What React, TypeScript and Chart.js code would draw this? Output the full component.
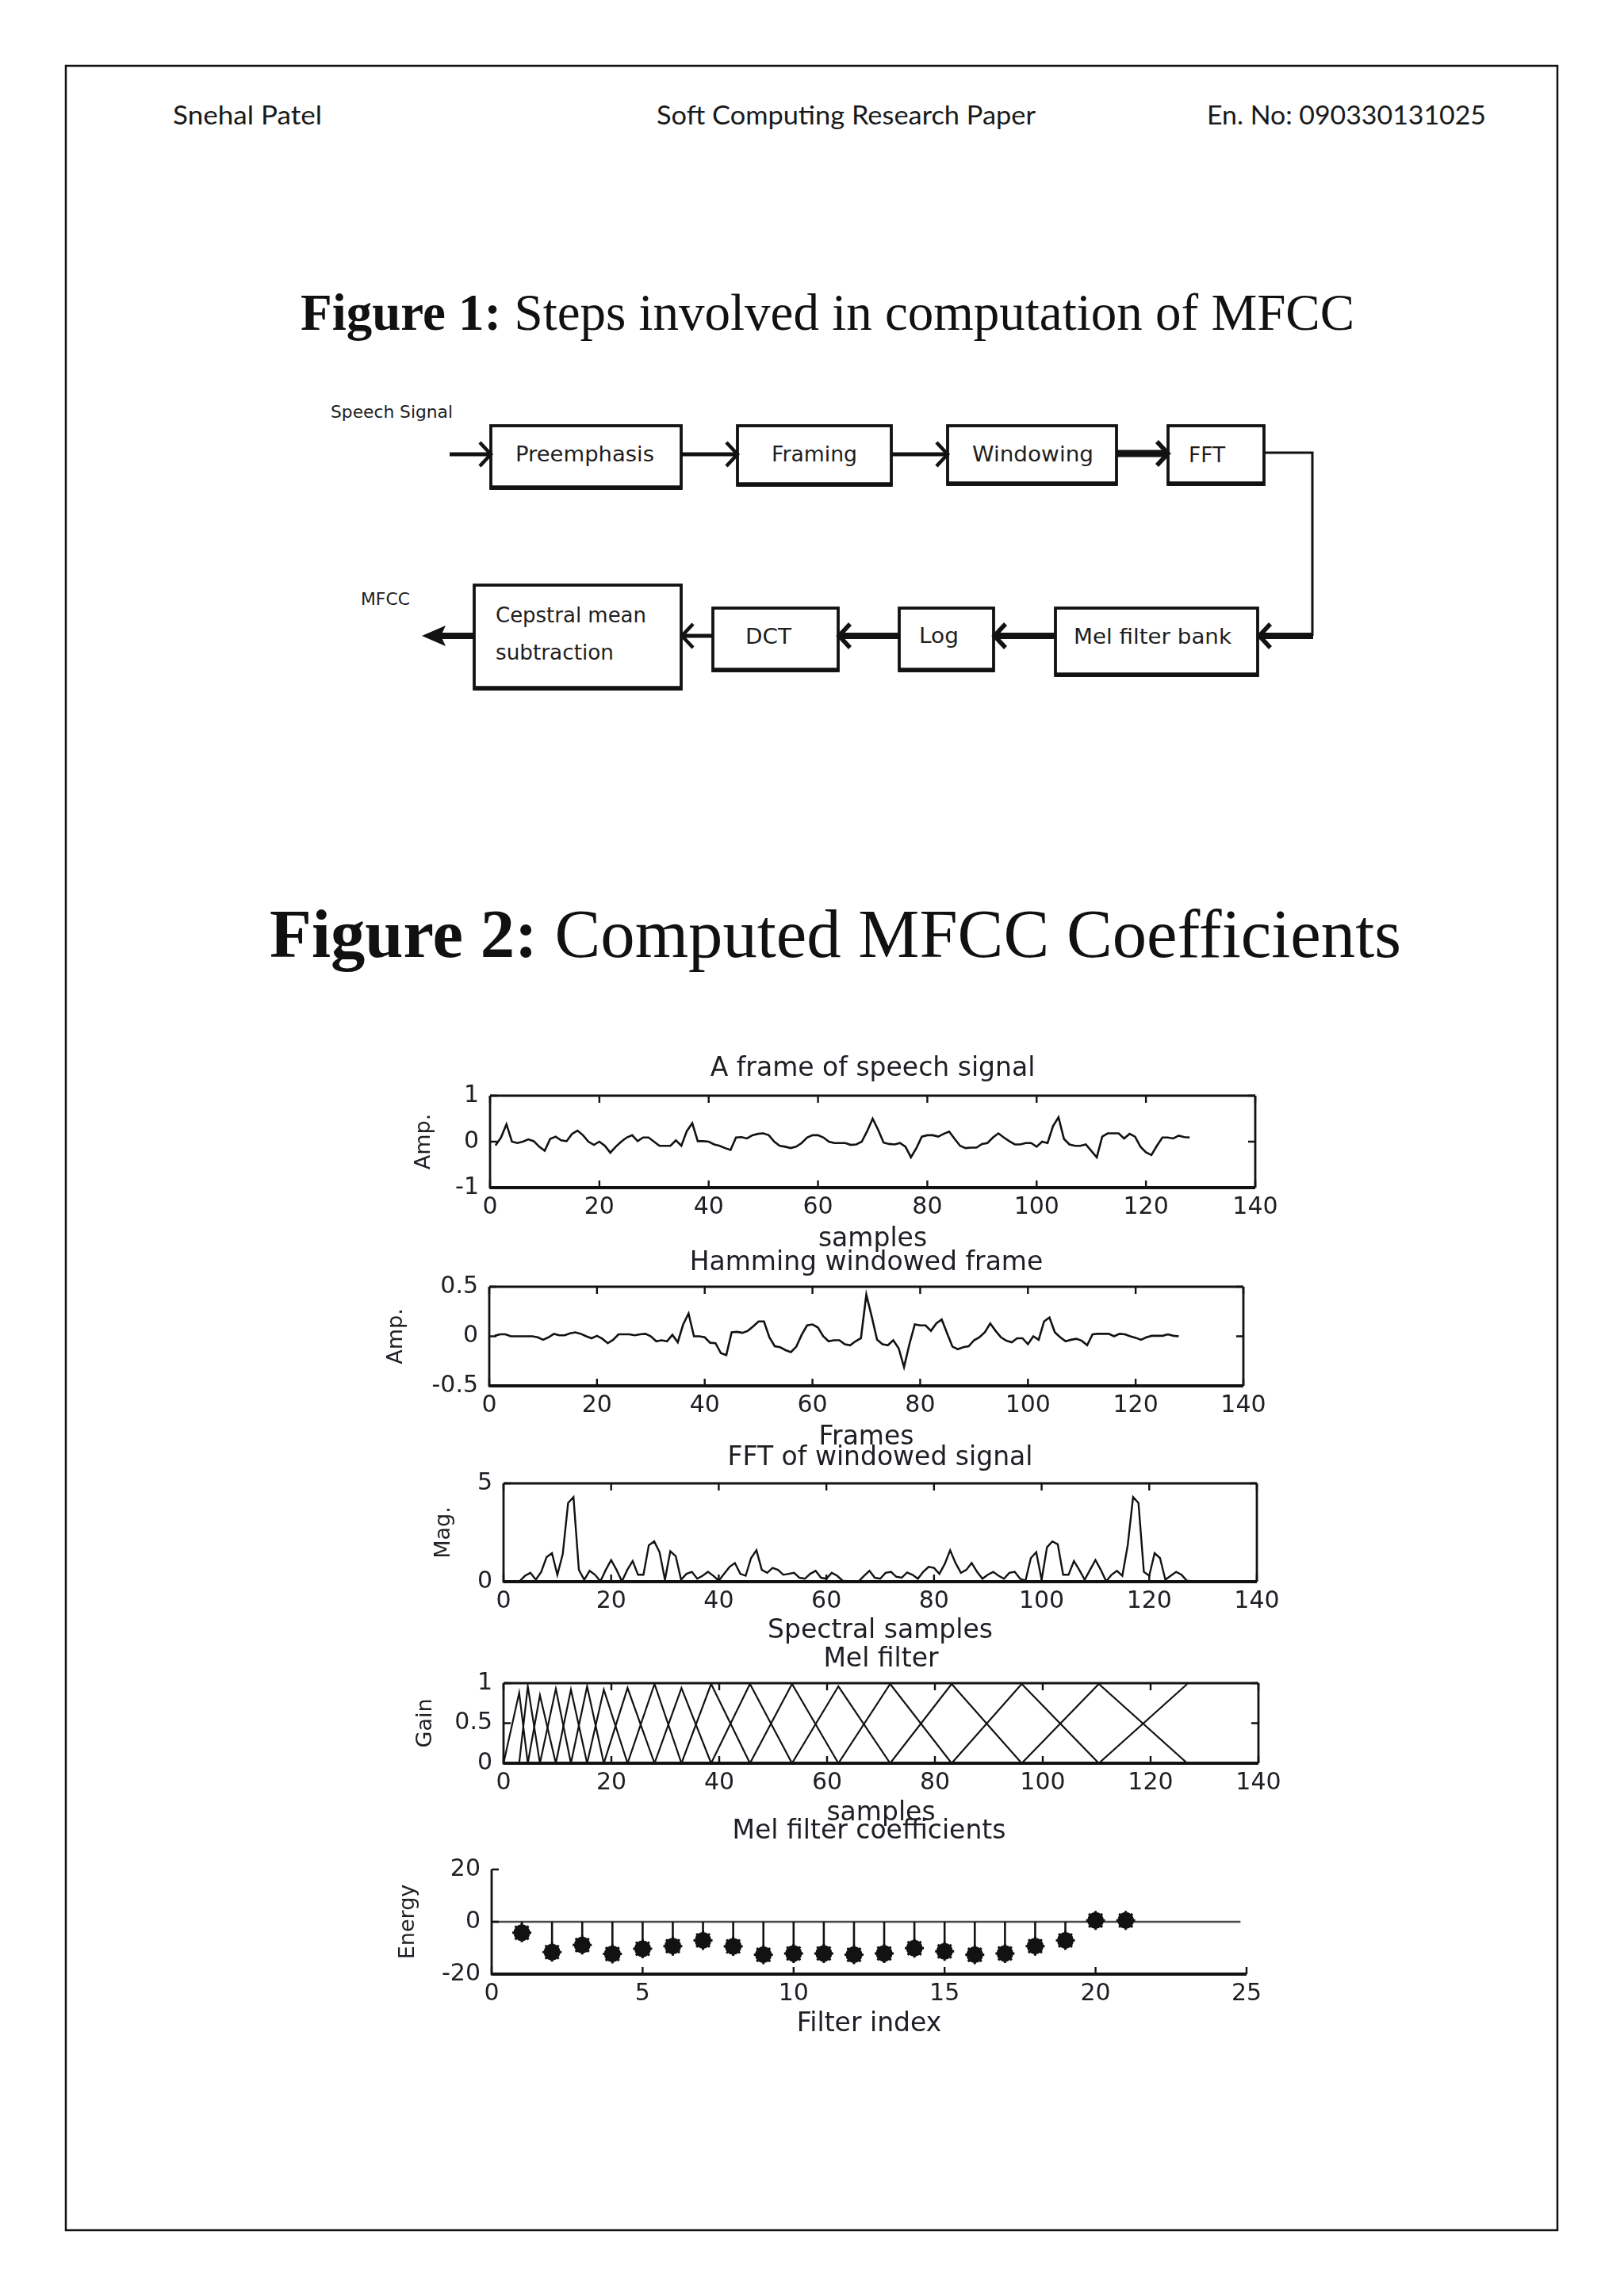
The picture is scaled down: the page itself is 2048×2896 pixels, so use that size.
import React, { useEffect, useRef } from 'react';
import { Chart, registerables } from 'chart.js';

Chart.register(...registerables);

// ---------------- data ----------------
const frameSignal = [
  -0.08, 0.09, 0.38, 0.0, -0.03, 0.0, 0.05, 0.01, -0.11, -0.2,
  0.06, 0.11, 0.03, 0.01, 0.17, 0.24, 0.14, 0.0, -0.07, 0.0,
  -0.09, -0.24, -0.11, 0.0, 0.09, 0.14, 0.01, 0.09, 0.09, 0.0,
  -0.09, -0.09, -0.09, 0.03, -0.09, 0.23, 0.4, 0.01, 0.01, 0.0,
  -0.06, -0.09, -0.14, -0.18, 0.09, 0.1, 0.07, 0.14, 0.17, 0.18,
  0.14, 0.0, -0.09, -0.11, -0.14, -0.11, -0.03, 0.09, 0.14, 0.14,
  0.09, 0.0, -0.03, -0.03, -0.03, -0.07, -0.06, 0.0, 0.23, 0.5,
  0.26, -0.02, -0.05, -0.06, -0.03, -0.11, -0.34, -0.14, 0.11, 0.14,
  0.14, 0.11, 0.17, 0.22, 0.06, -0.09, -0.14, -0.13, -0.13, -0.05,
  -0.03, 0.09, 0.18, 0.09, 0.01, -0.06, -0.06, -0.03, -0.03, -0.11,
  0.0, -0.03, 0.34, 0.53, 0.06, -0.06, -0.09, -0.09, -0.06, -0.2,
  -0.34, 0.11, 0.18, 0.18, 0.18, 0.07, 0.17, 0.11, -0.11, -0.23,
  -0.29, -0.09, 0.09, 0.09, 0.07, 0.13, 0.1, 0.09,
];

const windowedFrame = [
  0.005, 0.02, 0.02, 0, 0, 0, 0, 0, -0.01, -0.035,
  -0.01, 0.025, 0.01, 0.01, 0.03, 0.04, 0.025, 0, -0.02, 0.005,
  -0.025, -0.07, -0.035, 0.02, 0.02, 0.02, 0.01, 0.02, 0.025, 0,
  -0.05, -0.04, -0.05, 0.015, -0.06, 0.12, 0.23, 0, 0, -0.01,
  -0.065, -0.07, -0.17, -0.19, 0.04, 0.045, 0.035, 0.055, 0.1, 0.15,
  0.15, -0.01, -0.1, -0.11, -0.14, -0.16, -0.105, 0.015, 0.11, 0.12,
  0.09, 0, -0.05, -0.04, -0.04, -0.08, -0.09, -0.05, -0.02, 0.42,
  0.2, -0.035, -0.08, -0.09, -0.04, -0.12, -0.31, -0.08, 0.12, 0.11,
  0.11, 0.055, 0.13, 0.17, 0.03, -0.105, -0.13, -0.11, -0.1, -0.04,
  -0.01, 0.04, 0.13, 0.055, -0.01, -0.045, -0.06, -0.02, -0.02, -0.08,
  0, -0.035, 0.15, 0.19, 0.04, -0.01, -0.05, -0.035, -0.025, -0.045,
  -0.09, 0.02, 0.025, 0.025, 0.025, 0, 0.025, 0.02, 0, -0.015,
  -0.035, -0.01, 0.005, 0.005, 0.005, 0.02, 0.005, 0,
];

const fftMagnitude = [
  0.02, 0.02, 0.03, 0.3, 0.45, 0.1, 0.5, 1.25, 1.45, 0.35,
  1.4, 4.0, 4.3, 0.6, 0.1, 0.55, 0.35, 0.02, 0.6, 1.1,
  0.6, 0.02, 0.6, 1.05, 0.35, 0.35, 1.85, 2.05, 1.5, 0.1,
  1.55, 1.3, 0.1, 0.4, 0.5, 0.15, 0.3, 0.5, 0.3, 0.05,
  0.4, 0.75, 0.95, 0.4, 0.3, 1.2, 1.6, 0.6, 0.45, 0.7,
  0.6, 0.35, 0.4, 0.45, 0.2, 0.15, 0.4, 0.55, 0.2, 0.15,
  0.45, 0.3, 0.05, 0.02, 0.02, 0.02, 0.3, 0.55, 0.2, 0.15,
  0.45, 0.5, 0.25, 0.2, 0.47, 0.35, 0.15, 0.5, 0.75, 0.7,
  0.4, 0.9, 1.6, 0.95, 0.45, 0.6, 0.95, 0.5, 0.15, 0.35,
  0.5, 0.3, 0.15, 0.45, 0.5, 0.15, 0.05, 1.2, 1.5, 0.1,
  1.75, 2.05, 1.9, 0.35, 0.35, 1.05, 0.6, 0.1, 0.6, 1.1,
  0.6, 0.02, 0.35, 0.55, 0.3, 1.85, 4.3, 4.0, 0.5, 0.3,
  1.45, 1.2, 0.1, 0.3, 0.5, 0.35, 0.05, 0.02,
];

// centre (and edge) positions of the triangular mel filters, and their peak gains
const melCenters = [0, 2.9, 4.5, 6.75, 9.7, 12.5, 15.5, 18.6, 23.0, 28.0, 33.0, 38.5, 45.7, 53.5, 62.1, 71.7, 83.1, 96.1, 110.4, 126.8];
const melPeaks = [0.88, 0.96, 0.85, 0.93, 0.92, 0.96, 0.92, 0.94, 0.99, 0.94, 0.99, 0.99, 0.99, 0.96, 0.99, 0.99, 0.99, 0.99, 0.99];

const filterIndex = [1, 2, 3, 4, 5, 6, 7, 8, 9, 10, 11, 12, 13, 14, 15, 16, 17, 18, 19, 20, 21];
const melEnergy = [-4.2, -11.6, -8.9, -12.3, -10.3, -9.3, -7.1, -9.4, -12.6, -12.1, -12.1, -12.6, -12.1, -10.1, -11.3, -12.6, -12.1, -9.3, -7.1, 0.5, 0.5];

const sampleTicks = [0, 20, 40, 60, 80, 100, 120, 140];
const frameAmpTicks = [-1, 0, 1];
const windowAmpTicks = [-0.5, 0, 0.5];
const magTicks = [0, 5];
const gainTicks = [0, 0.5, 1];
const filterTicks = [0, 5, 10, 15, 20, 25];
const energyTicks = [-20, 0, 20];

// ---------------- styling ----------------
const INK = '#121212';
const TEXT = '#1e1e24';
const FONT = '"DejaVu Sans", "Liberation Sans", sans-serif';
const FS_TITLE = 33;
const FS_XLAB = 33;
const FS_YLAB = 27;
const FS_TICK = 30;
const CL = 430;
const CW = 1230;

const toSeries = (vals: number[]) => vals.map((v, i) => ({ x: i + 1, y: v }));

const melFilterSets = melPeaks.map((p, k) => {
  const pts: { x: number; y: number }[] = [
    { x: melCenters[k], y: 0 },
    { x: melCenters[k + 1], y: p },
  ];
  if (k + 2 < melCenters.length) pts.push({ x: melCenters[k + 2], y: 0 });
  return pts;
});

const stemPoints = melEnergy.flatMap((v, i) => [
  { x: filterIndex[i], y: 0 },
  { x: filterIndex[i], y: v },
  { x: filterIndex[i], y: null as any },
]);
const markerPoints = melEnergy.map((v, i) => ({ x: filterIndex[i], y: v }));

type Spec = {
  id: string;
  title: string;
  xlabel: string;
  ylabel: string;
  xTicks: number[];
  yTicks: number[];
  L: number; R: number; T: number; B: number;
  titleY: number; xlabY: number; ylabX: number;
  box: boolean;
};

const SPECS: Spec[] = [
  { id: 'frame', title: 'A frame of speech signal', xlabel: 'samples', ylabel: 'Amp.', xTicks: sampleTicks, yTicks: frameAmpTicks,
    L: 618, R: 1583, T: 1382, B: 1498, titleY: 1348, xlabY: 1563, ylabX: 535, box: true },
  { id: 'ham', title: 'Hamming windowed frame', xlabel: 'Frames', ylabel: 'Amp.', xTicks: sampleTicks, yTicks: windowAmpTicks,
    L: 617, R: 1568, T: 1623, B: 1748, titleY: 1593, xlabY: 1813, ylabX: 500, box: true },
  { id: 'fft', title: 'FFT of windowed signal', xlabel: 'Spectral samples', ylabel: 'Mag.', xTicks: sampleTicks, yTicks: magTicks,
    L: 635, R: 1585, T: 1871, B: 1995, titleY: 1839, xlabY: 2057, ylabX: 560, box: true },
  { id: 'mel', title: 'Mel filter', xlabel: 'samples', ylabel: 'Gain', xTicks: sampleTicks, yTicks: gainTicks,
    L: 635, R: 1587, T: 2123, B: 2224, titleY: 2093, xlabY: 2287, ylabX: 537, box: true },
  { id: 'coef', title: 'Mel filter coefficients', xlabel: 'Filter index', ylabel: 'Energy', xTicks: filterTicks, yTicks: energyTicks,
    L: 620, R: 1572, T: 2358, B: 2490, titleY: 2310, xlabY: 2553, ylabX: 515, box: false },
];

function geometry(s: Spec) {
  const CT = s.titleY - 45;
  const CH = s.xlabY + 45 - CT;
  const lhT = FS_TITLE * 1.2;
  const lhX = FS_XLAB * 1.2;
  const lhY = FS_YLAB * 1.2;
  const pl = s.ylabX - CL - lhY / 2;
  const yw = s.L - CL - pl;
  const pr = CL + CW - s.R;
  const pt = s.titleY - CT - lhT / 2;
  const tpb = s.T - CT - pt - lhT;
  const xh = s.xlabY - s.B + lhX / 2;
  const pb = CT + CH - s.B - xh;
  return { CT, CH, pl, yw, pr, pt, tpb, xh, pb };
}

const matlabFrame = {
  id: 'matlabFrame',
  beforeDatasetsDraw(chart: any, _args: any, opts: any) {
    if (opts.box) return;
    const { ctx, chartArea: a, scales } = chart;
    const y0 = scales.y.getPixelForValue(0);
    ctx.save();
    ctx.strokeStyle = '#4a4a4a';
    ctx.lineWidth = 2.5;
    ctx.beginPath();
    ctx.moveTo(a.left, y0);
    ctx.lineTo(scales.x.getPixelForValue(24.8), y0);
    ctx.stroke();
    ctx.restore();
  },
  afterDatasetsDraw(chart: any, _args: any, opts: any) {
    const { ctx, chartArea: a, scales } = chart;
    const xs = scales.x;
    const ys = scales.y;
    const tl = 9;
    ctx.save();
    ctx.strokeStyle = INK;
    ctx.lineCap = 'butt';
    ctx.lineWidth = 2.4;
    ctx.beginPath();
    for (const t of xs.ticks) {
      const px = xs.getPixelForValue(t.value);
      ctx.moveTo(px, a.bottom);
      ctx.lineTo(px, a.bottom - tl);
      if (opts.box) {
        ctx.moveTo(px, a.top);
        ctx.lineTo(px, a.top + tl);
      }
    }
    for (const t of ys.ticks) {
      const py = ys.getPixelForValue(t.value);
      ctx.moveTo(a.left, py);
      ctx.lineTo(a.left + tl, py);
      if (opts.box) {
        ctx.moveTo(a.right, py);
        ctx.lineTo(a.right - tl, py);
      }
    }
    ctx.stroke();
    ctx.lineWidth = 2.8;
    ctx.beginPath();
    if (opts.box) {
      ctx.moveTo(a.left, a.top);
      ctx.lineTo(a.right, a.top);
      ctx.moveTo(a.right, a.top);
      ctx.lineTo(a.right, a.bottom);
    }
    ctx.moveTo(a.left, a.top);
    ctx.lineTo(a.left, a.bottom + 1.5);
    ctx.stroke();
    ctx.lineWidth = 3.8;
    ctx.beginPath();
    ctx.moveTo(a.left, a.bottom);
    ctx.lineTo(a.right, a.bottom);
    ctx.stroke();
    ctx.restore();
  },
};

function datasetsFor(id: string): any[] {
  const line = (data: any[], w = 2.6) => ({
    data,
    borderColor: INK,
    borderWidth: w,
    pointRadius: 0,
    tension: 0,
    fill: false,
    spanGaps: false,
  });
  switch (id) {
    case 'frame':
      return [line(toSeries(frameSignal))];
    case 'ham':
      return [line(toSeries(windowedFrame))];
    case 'fft':
      return [line(toSeries(fftMagnitude), 2.4)];
    case 'mel':
      return melFilterSets.map((d) => line(d, 2.2));
    default:
      return [
        line(stemPoints, 2.6),
        {
          data: markerPoints,
          showLine: false,
          pointStyle: 'circle',
          pointRadius: 10.5,
          pointBackgroundColor: INK,
          pointBorderColor: INK,
          pointBorderWidth: 0,
        },
        {
          data: markerPoints,
          showLine: false,
          pointStyle: 'star',
          pointRadius: 12,
          pointBorderColor: INK,
          pointBorderWidth: 3,
        },
      ];
  }
}

function makeConfig(spec: Spec, g: ReturnType<typeof geometry>): any {
  const tickFont = { family: FONT, size: FS_TICK };
  return {
    type: 'line',
    data: { datasets: datasetsFor(spec.id) },
    options: {
      animation: false,
      responsive: false,
      maintainAspectRatio: false,
      devicePixelRatio: 1,
      events: [],
      layout: { padding: { left: g.pl, right: g.pr, top: g.pt, bottom: g.pb } },
      plugins: {
        legend: { display: false },
        tooltip: { enabled: false },
        title: {
          display: true,
          text: spec.title,
          fullSize: false,
          color: TEXT,
          font: { family: FONT, size: FS_TITLE, weight: 'normal' },
          padding: { top: 0, bottom: g.tpb },
        },
        matlabFrame: { box: spec.box },
      },
      scales: {
        x: {
          type: 'linear',
          min: spec.xTicks[0],
          max: spec.xTicks[spec.xTicks.length - 1],
          offset: false,
          grid: { display: false, drawTicks: false },
          border: { display: false },
          ticks: { font: tickFont, color: TEXT, padding: 7, maxRotation: 0, autoSkip: false, callback: (v: any) => String(v) },
          afterBuildTicks: (s: any) => {
            s.ticks = spec.xTicks.map((v) => ({ value: v }));
          },
          title: { display: true, text: spec.xlabel, color: TEXT, font: { family: FONT, size: FS_XLAB }, padding: 0 },
          afterFit: (s: any) => {
            s.height = g.xh;
          },
        },
        y: {
          type: 'linear',
          min: spec.yTicks[0],
          max: spec.yTicks[spec.yTicks.length - 1],
          grid: { display: false, drawTicks: false },
          border: { display: false },
          ticks: { font: tickFont, color: TEXT, padding: 14, autoSkip: false, callback: (v: any) => String(v) },
          afterBuildTicks: (s: any) => {
            s.ticks = spec.yTicks.map((v) => ({ value: v }));
          },
          title: { display: true, text: spec.ylabel, color: TEXT, font: { family: FONT, size: FS_YLAB }, padding: 0 },
          afterFit: (s: any) => {
            s.width = g.yw;
          },
        },
      },
    },
    plugins: [matlabFrame],
  };
}

function ChartPanel({ spec }: { spec: Spec }) {
  const ref = useRef<HTMLCanvasElement | null>(null);
  const g = geometry(spec);
  useEffect(() => {
    if (!ref.current) return;
    const chart = new Chart(ref.current, makeConfig(spec, g));
    return () => chart.destroy();
  }, []);
  return (
    <canvas
      ref={ref}
      width={CW}
      height={Math.round(g.CH)}
      style={{ position: 'absolute', left: CL, top: g.CT, width: CW, height: Math.round(g.CH) }}
    />
  );
}

// ---------------- page decoration (header, titles, block diagram) ----------------
const HEAD_FONT = 'Lato, "Open Sans", "Noto Sans", sans-serif';
const SERIF = '"Liberation Serif", "DejaVu Serif", serif';
const FLOW_FONT = '"DejaVu Sans", sans-serif';

const flowBoxes = [
  { x1: 619, y1: 537, x2: 859, y2: 616 },
  { x1: 930, y1: 537, x2: 1124, y2: 612 },
  { x1: 1195, y1: 537, x2: 1408, y2: 611 },
  { x1: 1473, y1: 537, x2: 1594, y2: 611 },
  { x1: 1331, y1: 767, x2: 1586, y2: 852 },
  { x1: 1134, y1: 767, x2: 1253, y2: 846 },
  { x1: 899, y1: 767, x2: 1057, y2: 846 },
  { x1: 598, y1: 738, x2: 859, y2: 869 },
];

const flowTexts = [
  { t: 'Speech Signal', x: 417, y: 527, w: 154, fs: 21 },
  { t: 'Preemphasis', x: 650, y: 582, w: 175, fs: 27 },
  { t: 'Framing', x: 973, y: 582, w: 108, fs: 27 },
  { t: 'Windowing', x: 1226, y: 582, w: 153, fs: 27 },
  { t: 'FFT', x: 1499, y: 583, w: 46, fs: 27 },
  { t: 'MFCC', x: 455, y: 763, w: 62, fs: 21 },
  { t: 'Cepstral mean', x: 625, y: 785, w: 190, fs: 26 },
  { t: 'subtraction', x: 625, y: 832, w: 149, fs: 26 },
  { t: 'DCT', x: 940, y: 812, w: 58, fs: 27 },
  { t: 'Log', x: 1159, y: 811, w: 50, fs: 27 },
  { t: 'Mel filter bank', x: 1354, y: 812, w: 199, fs: 27 },
];

function chevron(x: number, y: number, dir: 1 | -1, w = 4.5) {
  const d = `M ${x - dir * 14} ${y - 15} L ${x} ${y} L ${x - dir * 14} ${y + 15}`;
  return <path d={d} fill="none" stroke={INK} strokeWidth={w} strokeLinejoin="miter" />;
}

function PageLayer() {
  return (
    <svg width={2048} height={2896} style={{ position: 'absolute', left: 0, top: 0 }}>
      <rect x={83} y={83} width={1881} height={2730} fill="none" stroke="#111" strokeWidth={2.5} />
      {/* header */}
      <text x={218} y={157} fontFamily={HEAD_FONT} fontSize={32} fill="#1a1a1a" textLength={188} lengthAdjust="spacingAndGlyphs">Snehal Patel</text>
      <text x={828} y={157} fontFamily={HEAD_FONT} fontSize={32} fill="#1a1a1a" textLength={478} lengthAdjust="spacingAndGlyphs">Soft Computing Research Paper</text>
      <text x={1522} y={157} fontFamily={HEAD_FONT} fontSize={32} fill="#1a1a1a" textLength={352} lengthAdjust="spacingAndGlyphs">En. No: 090330131025</text>
      {/* figure titles */}
      <text x={379} y={416} fontFamily={SERIF} fontSize={65} fill="#111" textLength={1329} lengthAdjust="spacingAndGlyphs" style={{ whiteSpace: 'pre' }}>
        <tspan fontWeight="bold">Figure 1:</tspan>
        <tspan> Steps involved in computation of MFCC</tspan>
      </text>
      <text x={340} y={1207} fontFamily={SERIF} fontSize={86} fill="#111" textLength={1427} lengthAdjust="spacingAndGlyphs" style={{ whiteSpace: 'pre' }}>
        <tspan fontWeight="bold">Figure 2:</tspan>
        <tspan> Computed MFCC Coefficients</tspan>
      </text>
      {/* block diagram */}
      {flowBoxes.map((b, i) => (
        <g key={i}>
          <rect x={b.x1} y={b.y1} width={b.x2 - b.x1} height={b.y2 - b.y1} fill="#fff" stroke={INK} strokeWidth={3.8} />
          <line x1={b.x1} y1={b.y2 - 1} x2={b.x2} y2={b.y2 - 1} stroke={INK} strokeWidth={5.5} />
        </g>
      ))}
      {flowTexts.map((f, i) => (
        <text key={i} x={f.x} y={f.y} fontFamily={FLOW_FONT} fontSize={f.fs} fill="#1e1e1e" textLength={f.w} lengthAdjust="spacingAndGlyphs">{f.t}</text>
      ))}
      {/* top row arrows */}
      <line x1={567} y1={573} x2={617} y2={573} stroke={INK} strokeWidth={5} />
      {chevron(619, 573, 1)}
      <line x1={859} y1={573} x2={928} y2={573} stroke={INK} strokeWidth={5} />
      {chevron(930, 573, 1)}
      <line x1={1124} y1={573} x2={1193} y2={573} stroke={INK} strokeWidth={5} />
      {chevron(1195, 573, 1)}
      <line x1={1408} y1={572} x2={1470} y2={572} stroke={INK} strokeWidth={9} />
      {chevron(1473, 572, 1, 5.5)}
      {/* feedback path */}
      <polyline points="1594,571 1655,571 1655,802" fill="none" stroke={INK} strokeWidth={3} />
      <line x1={1656} y1={802} x2={1591} y2={802} stroke={INK} strokeWidth={8} />
      {chevron(1588, 802, -1, 5.5)}
      <line x1={1331} y1={802} x2={1257} y2={802} stroke={INK} strokeWidth={8} />
      {chevron(1254, 802, -1, 5.5)}
      <line x1={1134} y1={802} x2={1060} y2={802} stroke={INK} strokeWidth={8} />
      {chevron(1058, 802, -1, 5.5)}
      <line x1={899} y1={802} x2={863} y2={802} stroke={INK} strokeWidth={5} />
      {chevron(860, 802, -1, 4.5)}
      <line x1={598} y1={802} x2={552} y2={802} stroke={INK} strokeWidth={8} />
      <polygon points="532,802 562,789 556,802 562,815" fill={INK} />
    </svg>
  );
}

export default function App() {
  return (
    <div style={{ position: 'absolute', left: 0, top: 0, width: 2048, height: 2896, background: '#fff', overflow: 'hidden' }}>
      <PageLayer />
      {SPECS.map((s) => (
        <ChartPanel key={s.id} spec={s} />
      ))}
    </div>
  );
}
